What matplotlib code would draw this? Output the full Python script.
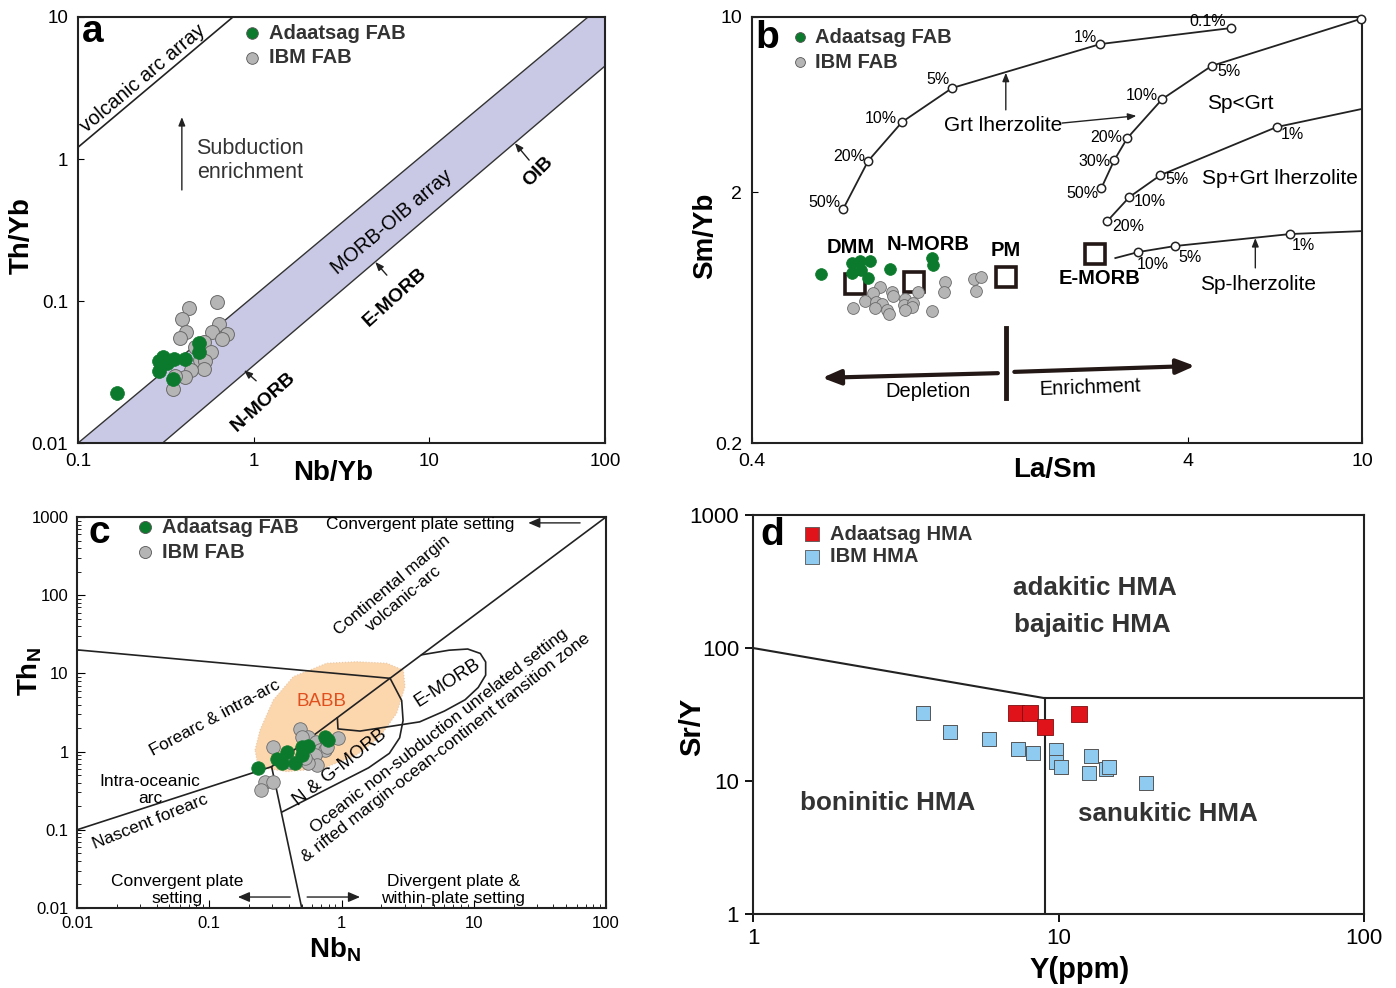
import numpy as np
import matplotlib
matplotlib.use('Agg')
import matplotlib.pyplot as plt
from matplotlib.ticker import FixedLocator, NullLocator, LogLocator, NullFormatter

plt.rcParams['font.family'] = ['Liberation Sans', 'DejaVu Sans']
plt.rcParams['mathtext.fontset'] = 'custom'
plt.rcParams['mathtext.rm'] = 'Liberation Sans'
plt.rcParams['mathtext.bf'] = 'Liberation Sans:bold'

GREEN = '#0c7a2c'
GRAY = '#b5b5b5'
RED = '#e0121a'
BLUE = '#8fcaf0'

# ---- panel a : Th/Yb vs Nb/Yb ----
a_fab_nb = [0.166, 0.289, 0.306, 0.322, 0.290, 0.352, 0.406, 0.489, 0.489, 0.349]
a_fab_th = [0.0226, 0.0378, 0.0402, 0.0364, 0.0323, 0.0392, 0.0392, 0.0504, 0.0440, 0.0284]
a_ibm_nb = [0.430, 0.616, 0.389, 0.412, 0.381, 0.637, 0.581, 0.708, 0.657, 0.521,
            0.463, 0.569, 0.495, 0.528, 0.521, 0.440, 0.408, 0.358, 0.346]
a_ibm_th = [0.0893, 0.0989, 0.0743, 0.0608, 0.0546, 0.0685, 0.0602, 0.0586, 0.0537, 0.0512,
            0.0477, 0.0435, 0.0384, 0.0378, 0.0330, 0.0327, 0.0290, 0.0298, 0.0241]
band_x = [0.1, 80, 100, 100, 0.303]
band_y = [0.01, 10, 10, 4.52, 0.01]
arc_x = [0.1, 0.762]
arc_y = [1.21, 10]

# ---- panel b : Sm/Yb vs La/Sm ----
b_fab_la = [0.575, 0.677, 0.708, 0.746, 0.678, 0.709, 0.739, 0.829, 1.036, 1.038]
b_fab_sm = [0.944, 1.047, 1.067, 1.060, 0.950, 0.979, 0.907, 0.985, 1.096, 1.025]
b_ibm_la = [0.786, 0.756, 0.726, 0.683, 0.770, 0.793, 0.766, 0.817, 0.823, 0.836, 0.841, 0.896,
            0.893, 0.935, 0.931, 0.897, 0.962, 1.034, 1.109, 1.104, 1.287, 1.340, 1.304]
b_ibm_sm = [0.835, 0.794, 0.737, 0.689, 0.731, 0.714, 0.689, 0.678, 0.654, 0.802, 0.771, 0.748,
            0.710, 0.721, 0.699, 0.678, 0.802, 0.674, 0.879, 0.802, 0.899, 0.916, 0.810]
ref_names = ['DMM', 'N-MORB', 'PM', 'E-MORB']
ref_la = [0.689, 0.941, 1.530, 2.447]
ref_sm = [0.861, 0.877, 0.918, 1.134]

grt_la = [0.647, 0.738, 0.883, 1.150, 2.513, 5.02]
grt_sm = [1.715, 2.665, 3.813, 5.21, 7.80, 9.04]
grt_pct = ['50%', '20%', '10%', '5%', '1%', '0.1%']
spgrt_la = [2.527, 2.706, 2.898, 3.486, 4.52, 9.92]
spgrt_sm = [2.08, 2.69, 3.29, 4.71, 6.38, 9.82]
spgrt_pct = ['50%', '30%', '20%', '10%', '5%', '']
spgl_la = [2.608, 2.929, 3.45, 6.37, 10.0]
spgl_sm = [1.536, 1.914, 2.34, 3.64, 4.30]
spgl_pct = ['20%', '10%', '5%', '1%', None]
sp_la = [2.72, 3.07, 3.73, 6.85, 10.0]
sp_sm = [1.093, 1.155, 1.221, 1.363, 1.40]
sp_pct = [None, '10%', '5%', '1%', None]

# ---- panel c : ThN vs NbN ----
c_fab_nb = [0.235, 0.327, 0.386, 0.353, 0.445, 0.500, 0.500, 0.561, 0.750, 0.794]
c_fab_th = [0.622, 0.804, 0.997, 0.708, 0.721, 0.905, 1.135, 1.18, 1.52, 1.41]
c_ibm_nb = [0.485, 0.302, 0.561, 0.641, 0.773, 0.946, 0.687, 0.750, 0.631, 0.649,
            0.561, 0.530, 0.264, 0.302, 0.245, 0.408, 0.500, 0.781]
c_ibm_th = [1.93, 1.135, 1.55, 1.34, 1.34, 1.48, 1.05, 1.05, 0.905, 0.674,
            0.721, 0.821, 0.412, 0.412, 0.323, 0.743, 1.55, 1.135]
babb_nb = [0.222, 0.242, 0.305, 0.432, 0.773, 1.30, 2.20, 2.93, 3.02, 2.61, 1.95, 1.30, 0.728, 0.386, 0.272, 0.229]
babb_th = [1.047, 1.89, 4.57, 9.08, 13.5, 14.1, 13.5, 11.0, 6.76, 3.09, 1.55, 0.905, 0.611, 0.553, 0.611, 0.78]
diag_nb = [0.01, 0.296, 100]
diag_th = [0.1, 0.641, 1000]
upper_nb = [0.01, 2.33]
upper_th = [20, 8.65]
vert_nb = [0.296, 0.5]
vert_th = [0.641, 0.01]
ngmorb_nb = [0.355, 1.6, 2.3, 2.75, 2.92, 2.85, 2.33]
ngmorb_th = [0.169, 0.62, 0.95, 1.5, 2.5, 4.5, 8.65]
emorb_nb = [0.93, 0.94, 1.38, 3.9, 6.0, 8.6, 10.8, 12.3, 12.3, 11.2, 9.0, 6.5, 4.04]
emorb_th = [2.7, 1.95, 1.83, 2.4, 3.3, 4.6, 6.6, 9.5, 14.0, 18.0, 20.5, 19.8, 17.3]

# ---- panel d : Sr/Y vs Y ----
d_ada_y = [7.26, 8.07, 9.05, 11.65]
d_ada_sry = [32.5, 32.5, 25.4, 31.9]
d_ibm_y = [3.61, 4.41, 5.92, 7.39, 8.23, 9.79, 9.79, 10.2, 12.8, 12.6, 14.3, 14.6, 19.4]
d_ibm_sry = [32.5, 23.4, 20.8, 17.3, 16.3, 17.0, 13.9, 12.8, 15.4, 11.5, 12.4, 12.8, 9.6]
d_line1_y = [1, 9]
d_line1_sry = [100, 42]
d_line2_y = [9, 100]
d_line2_sry = [42, 42]
d_line3_y = [9, 9]
d_line3_sry = [42, 1]

fig = plt.figure(figsize=(13.96, 9.88), dpi=100)
axa = fig.add_axes([0.0559, 0.5516, 0.3775, 0.4312])
axb = fig.add_axes([0.5387, 0.5516, 0.4370, 0.4312])
axc = fig.add_axes([0.0552, 0.0810, 0.3789, 0.3957])
axd = fig.add_axes([0.5394, 0.0749, 0.4377, 0.4038])

for ax in (axa, axb, axc, axd):
    ax.set_xscale('log')
    ax.set_yscale('log')
    for s in ax.spines.values():
        s.set_linewidth(1.5)
        s.set_color('#222222')

LAB = 20      # axis titles
LEG = 14.5    # legend entries


def txt(ax, x, y, s, **kw):
    kw.setdefault('ha', 'center')
    kw.setdefault('va', 'center')
    kw.setdefault('rotation_mode', 'anchor')
    ax.text(x, y, s, transform=ax.transAxes, **kw)


def arrow(ax, x0, y0, x1, y1, lw=1.0, style='-|>,head_length=0.5,head_width=0.2', color='#222222'):
    ax.annotate('', xy=(x1, y1), xytext=(x0, y0), xycoords='axes fraction',
                textcoords='axes fraction',
                arrowprops=dict(arrowstyle=style, lw=lw, color=color, shrinkA=0, shrinkB=0))


def legend_pt(ax, x, y, color, label, marker='o', size=70, tx=None):
    ax.scatter([x], [y], s=size, marker=marker, color=color, edgecolors='#555555',
               linewidths=0.6, transform=ax.transAxes, clip_on=False, zorder=5)
    ax.text(tx, y, label, transform=ax.transAxes, fontsize=LEG, fontweight='bold',
            color='#333333', ha='left', va='center')


# ================= panel a =================
axa.set_xlim(0.1, 100)
axa.set_ylim(0.01, 10)
axa.fill(band_x, band_y, color='#c9c9e6', lw=0, zorder=1)
axa.plot(band_x[:2], band_y[:2], color='#333333', lw=1.0, zorder=2)
axa.plot(band_x[3:], band_y[3:], color='#333333', lw=1.0, zorder=2)
axa.plot(arc_x, arc_y, color='#222222', lw=1.2)
axa.scatter(a_ibm_nb, a_ibm_th, s=100, color=GRAY, edgecolors='#6a6a6a', linewidths=0.7, zorder=3)
axa.scatter(a_fab_nb, a_fab_th, s=100, color=GREEN, edgecolors=GREEN, linewidths=0.5, zorder=4)
axa.xaxis.set_major_locator(FixedLocator([0.1, 1, 10, 100]))
axa.yaxis.set_major_locator(FixedLocator([0.01, 0.1, 1, 10]))
axa.xaxis.set_minor_locator(NullLocator())
axa.yaxis.set_minor_locator(NullLocator())
axa.set_xticklabels(['0.1', '1', '10', '100'])
axa.set_yticklabels(['0.01', '0.1', '1', '10'])
axa.tick_params(direction='in', length=4, labelsize=13.5, pad=7)

txt(axa, 0.028, 0.965, 'a', fontsize=28, fontweight='bold')
txt(axa, 0.123, 0.857, 'volcanic arc array', fontsize=14.3, rotation=40)
legend_pt(axa, 0.330, 0.962, GREEN, 'Adaatsag FAB', tx=0.362)
legend_pt(axa, 0.330, 0.904, GRAY, 'IBM FAB', tx=0.362)
txt(axa, 0.326, 0.664, 'Subduction\nenrichment', fontsize=15.5, color='#333333', linespacing=1.2)
arrow(axa, 0.197, 0.594, 0.197, 0.765)
txt(axa, 0.596, 0.519, 'MORB-OIB array', fontsize=14.3, rotation=40)
txt(axa, 0.873, 0.636, 'OIB', fontsize=14, fontweight='bold', rotation=45)
arrow(axa, 0.856, 0.664, 0.829, 0.704)
txt(axa, 0.601, 0.343, 'E-MORB', fontsize=14, fontweight='bold', rotation=42)
arrow(axa, 0.586, 0.394, 0.564, 0.425)
txt(axa, 0.351, 0.096, 'N-MORB', fontsize=14, fontweight='bold', rotation=42)
arrow(axa, 0.338, 0.146, 0.315, 0.171)
txt(axa, 0.484, -0.070, 'Nb/Yb', fontsize=LAB, fontweight='bold')
txt(axa, -0.106, 0.486, 'Th/Yb', fontsize=LAB, fontweight='bold', rotation=90)

# ================= panel b =================
axb.set_xlim(0.4, 10)
axb.set_ylim(0.2, 10)


def melt_curve(ax, xs, ys, pcts, offs, marks):
    ax.plot(xs, ys, color='#222222', lw=1.3, zorder=2)
    mx = [x for x, m in zip(xs, marks) if m]
    my = [y for y, m in zip(ys, marks) if m]
    ax.plot(mx, my, 'o', ms=6, mfc='white', mec='#222222', mew=1.1, zorder=3, clip_on=False)
    for x, y, p, (dx, dy) in zip(xs, ys, pcts, offs):
        if p:
            ax.annotate(p, (x, y), xytext=(dx * 0.72, -dy * 0.72), textcoords='offset points',
                        ha='center', va='center', fontsize=11.5)


melt_curve(axb, grt_la, grt_sm, grt_pct,
           [(-19, -7), (-19, -5), (-21, -3), (-14, -8), (-15, -7), (-24, -6)], [True] * 6)
melt_curve(axb, spgrt_la, spgrt_sm, spgrt_pct,
           [(-19, 6), (-20, 2), (-21, -1), (-21, -3), (17, 6), (0, 0)], [True] * 6)
melt_curve(axb, spgl_la, spgl_sm, spgl_pct,
           [(21, 5), (20, 4), (17, 4), (16, 7), (0, 0)], [True, True, True, True, False])
melt_curve(axb, sp_la, sp_sm, sp_pct,
           [(0, 0), (15, 12), (15, 11), (13, 11), (0, 0)], [False, True, True, True, False])

axb.plot(ref_la, ref_sm, 's', ms=15, mfc='white', mec='#231815', mew=2.6, zorder=3, linestyle='none')
axb.scatter(b_ibm_la, b_ibm_sm, s=72, color=GRAY, edgecolors='#6a6a6a', linewidths=0.6, zorder=4)
axb.scatter(b_fab_la, b_fab_sm, s=72, color=GREEN, edgecolors=GREEN, linewidths=0.5, zorder=5)

axb.xaxis.set_major_locator(FixedLocator([0.4, 4, 10]))
axb.yaxis.set_major_locator(FixedLocator([0.2, 2, 10]))
axb.xaxis.set_minor_locator(NullLocator())
axb.yaxis.set_minor_locator(NullLocator())
axb.set_xticklabels(['0.4', '4', '10'])
axb.set_yticklabels(['0.2', '2', '10'])
axb.tick_params(direction='in', length=4, labelsize=14, pad=7)

txt(axb, 0.025, 0.951, 'b', fontsize=28, fontweight='bold')
legend_pt(axb, 0.079, 0.953, GREEN, 'Adaatsag FAB', size=50, tx=0.103)
legend_pt(axb, 0.079, 0.894, GRAY, 'IBM FAB', size=50, tx=0.103)
ref_pos = [(0.161, 0.460), (0.289, 0.467), (0.416, 0.453), (0.570, 0.385)]
for name, (fx, fy) in zip(ref_names, ref_pos):
    txt(axb, fx, fy, name, fontsize=14.5, fontweight='bold')
txt(axb, 0.411, 0.746, 'Grt lherzolite', fontsize=15)
arrow(axb, 0.416, 0.782, 0.416, 0.869)
arrow(axb, 0.508, 0.751, 0.630, 0.768)
txt(axb, 0.800, 0.798, 'Sp<Grt', fontsize=15)
txt(axb, 0.866, 0.620, 'Sp+Grt lherzolite', fontsize=15)
txt(axb, 0.830, 0.371, 'Sp-lherzolite', fontsize=15)
arrow(axb, 0.825, 0.411, 0.825, 0.481)
axb.plot([0.416, 0.416], [0.106, 0.270], transform=axb.transAxes, color='#231815', lw=3.5)
arrow(axb, 0.403, 0.164, 0.115, 0.153, lw=3.0, style='-|>,head_length=1.1,head_width=0.45', color='#231815')
arrow(axb, 0.430, 0.167, 0.726, 0.181, lw=3.0, style='-|>,head_length=1.1,head_width=0.45', color='#231815')
txt(axb, 0.289, 0.120, 'Depletion', fontsize=14.5)
txt(axb, 0.554, 0.129, 'Enrichment', fontsize=14.5, rotation=2)
txt(axb, 0.497, -0.063, 'La/Sm', fontsize=LAB, fontweight='bold')
txt(axb, -0.077, 0.486, 'Sm/Yb', fontsize=LAB, fontweight='bold', rotation=90)

# ================= panel c =================
axc.set_xlim(0.01, 100)
axc.set_ylim(0.01, 1000)
axc.fill(babb_nb, babb_th, facecolor='#fcd6ad', edgecolor='#e8c8a8', lw=0.8, ls=':', zorder=1)
lk = dict(color='#222222', lw=1.2, zorder=2)
axc.plot(diag_nb, diag_th, **lk)
axc.plot(upper_nb, upper_th, **lk)
axc.plot(vert_nb, vert_th, **lk)
axc.plot(ngmorb_nb, ngmorb_th, **lk)
axc.plot(emorb_nb, emorb_th, **lk)
axc.scatter(c_ibm_nb, c_ibm_th, s=95, color=GRAY, edgecolors='#6a6a6a', linewidths=0.6, zorder=3)
axc.scatter(c_fab_nb, c_fab_th, s=95, color=GREEN, edgecolors=GREEN, linewidths=0.5, zorder=4)

axc.xaxis.set_major_locator(FixedLocator([0.01, 0.1, 1, 10, 100]))
axc.yaxis.set_major_locator(FixedLocator([0.01, 0.1, 1, 10, 100, 1000]))
axc.xaxis.set_minor_locator(LogLocator(base=10, subs=np.arange(2, 10)))
axc.yaxis.set_minor_locator(LogLocator(base=10, subs=np.arange(2, 10)))
axc.xaxis.set_minor_formatter(NullFormatter())
axc.yaxis.set_minor_formatter(NullFormatter())
axc.set_xticklabels(['0.01', '0.1', '1', '10', '100'])
axc.set_yticklabels(['0.01', '0.1', '1', '10', '100', '1000'])
axc.tick_params(which='major', direction='in', length=6, labelsize=12, pad=6)
axc.tick_params(which='minor', direction='in', length=3)

CT = 12.5
txt(axc, 0.043, 0.959, 'c', fontsize=28, fontweight='bold')
legend_pt(axc, 0.129, 0.974, GREEN, 'Adaatsag FAB', size=75, tx=0.161)
legend_pt(axc, 0.129, 0.910, GRAY, 'IBM FAB', size=75, tx=0.161)
txt(axc, 0.648, 0.982, 'Convergent plate setting', fontsize=CT)
arrow(axc, 0.951, 0.985, 0.853, 0.985, style='-|>,head_length=0.7,head_width=0.3')
txt(axc, 0.607, 0.808, 'Continental margin\nvolcanic-arc', fontsize=CT, rotation=40)
txt(axc, 0.261, 0.486, 'Forearc & intra-arc', fontsize=CT, rotation=28)
txt(axc, 0.463, 0.527, 'BABB', fontsize=13.5, color='#e0501e')
txt(axc, 0.701, 0.575, 'E-MORB', fontsize=13.5, rotation=33)
txt(axc, 0.497, 0.358, 'N & G-MORB', fontsize=13.5, rotation=38)
txt(axc, 0.684, 0.453, 'Oceanic non-subduction unrelated setting', fontsize=CT, rotation=38)
txt(axc, 0.698, 0.410, '& rifted margin-ocean-continent transition zone', fontsize=CT, rotation=38)
txt(axc, 0.138, 0.302, 'Intra-oceanic\narc', fontsize=CT)
txt(axc, 0.138, 0.220, 'Nascent forearc', fontsize=CT, rotation=22)
txt(axc, 0.189, 0.046, 'Convergent plate\nsetting', fontsize=CT)
arrow(axc, 0.403, 0.028, 0.304, 0.028, style='-|>,head_length=0.7,head_width=0.3')
txt(axc, 0.711, 0.046, 'Divergent plate &\nwithin-plate setting', fontsize=CT)
arrow(axc, 0.435, 0.028, 0.535, 0.028, style='-|>,head_length=0.7,head_width=0.3')
txt(axc, 0.488, -0.107, r'Nb$_{\mathbf{N}}$', fontsize=LAB, fontweight='bold')
txt(axc, -0.089, 0.604, r'Th$_{\mathbf{N}}$', fontsize=LAB, fontweight='bold', rotation=90)

# ================= panel d =================
axd.set_xlim(1, 100)
axd.set_ylim(1, 1000)
for lx, ly in ((d_line1_y, d_line1_sry), (d_line2_y, d_line2_sry), (d_line3_y, d_line3_sry)):
    axd.plot(lx, ly, color='#222222', lw=1.5, zorder=2)
axd.scatter(d_ibm_y, d_ibm_sry, s=115, marker='s', color=BLUE, edgecolors='#555555',
            linewidths=0.7, zorder=3)
axd.scatter(d_ada_y, d_ada_sry, s=125, marker='s', color=RED, edgecolors='#7a1010',
            linewidths=0.6, zorder=4)
axd.xaxis.set_major_locator(FixedLocator([1, 10, 100]))
axd.yaxis.set_major_locator(FixedLocator([1, 10, 100, 1000]))
axd.xaxis.set_minor_locator(NullLocator())
axd.yaxis.set_minor_locator(NullLocator())
axd.set_xticklabels(['1', '10', '100'])
axd.set_yticklabels(['1', '10', '100', '1000'])
axd.tick_params(direction='out', length=6, width=1.3, labelsize=16, pad=4)

txt(axd, 0.031, 0.950, 'd', fontsize=28, fontweight='bold')
legend_pt(axd, 0.097, 0.952, RED, 'Adaatsag HMA', marker='s', size=95, tx=0.126)
legend_pt(axd, 0.097, 0.895, BLUE, 'IBM HMA', marker='s', size=95, tx=0.126)
FD = 18.7
txt(axd, 0.560, 0.817, 'adakitic HMA', fontsize=FD, fontweight='bold', color='#333333')
txt(axd, 0.556, 0.724, 'bajaitic HMA', fontsize=FD, fontweight='bold', color='#333333')
txt(axd, 0.221, 0.278, 'boninitic HMA', fontsize=FD, fontweight='bold', color='#333333')
txt(axd, 0.679, 0.251, 'sanukitic HMA', fontsize=FD, fontweight='bold', color='#333333')
txt(axd, 0.535, -0.140, 'Y(ppm)', fontsize=21, fontweight='bold')
txt(axd, -0.100, 0.469, 'Sr/Y', fontsize=21, fontweight='bold', rotation=90)

fig.savefig('out.png', dpi=100)
